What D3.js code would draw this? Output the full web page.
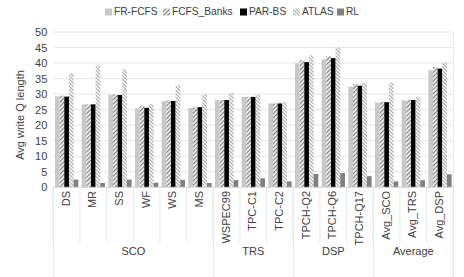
<!DOCTYPE html>
<html><head><meta charset="utf-8">
<script src="https://cdn.jsdelivr.net/npm/d3@7/dist/d3.min.js"></script>
<style>body{margin:0;background:#fff}svg{display:block;font-family:"Liberation Sans",Arial,sans-serif}</style>
</head><body><svg id="c" width="464" height="277"></svg>
<script>
const categories = ["DS","MR","SS","WF","WS","MS","WSPEC99","TPC-C1","TPC-C2","TPCH-Q2","TPCH-Q6","TPCH-Q17","Avg_SCO","Avg_TRS","Avg_DSP"];
const groups = [{name:"SCO",n:6},{name:"TRS",n:3},{name:"DSP",n:3},{name:"Average",n:3}];
const seriesNames = ["FR-FCFS","FCFS_Banks","PAR-BS","ATLAS","RL"];
const frfcfs    = [29.3,26.7,29.7,25.4,27.7,25.5,28.1,29.1,27.0,39.9,41.2,32.4,27.3,28.0,37.7];
const fcfsBanks = [29.5,26.7,29.9,26.3,27.9,25.7,28.1,29.1,27.0,40.9,42.2,33.2,27.5,28.1,38.7];
const parbs     = [29.2,26.7,29.7,25.6,27.8,25.8,28.1,29.1,27.0,40.3,41.6,32.7,27.4,28.1,38.2];
const atlas     = [36.7,39.3,38.0,26.8,32.9,30.0,30.4,29.7,27.4,42.5,45.1,33.6,33.7,29.1,40.3];
const rl        = [2.5,1.4,2.5,1.5,2.4,1.4,2.3,2.9,1.9,4.3,4.6,3.6,1.9,2.3,4.2];
const yTicks = [0,5,10,15,20,25,30,35,40,45,50];
const seriesValues = [frfcfs,fcfsBanks,parbs,atlas,rl];

const svg = d3.select("#c");
const defs = svg.append("defs");
const p1 = defs.append("pattern").attr("id","pBanks").attr("patternUnits","userSpaceOnUse").attr("width",3).attr("height",3).attr("patternTransform","rotate(45)");
p1.append("rect").attr("width",3).attr("height",3).attr("fill","#f2f2f2");
p1.append("rect").attr("width",1.2).attr("height",3).attr("fill","#7f7f7f");
const p2 = defs.append("pattern").attr("id","pAtlas").attr("patternUnits","userSpaceOnUse").attr("width",2.5).attr("height",2.5).attr("patternTransform","rotate(-45)");
p2.append("rect").attr("width",2.5).attr("height",2.5).attr("fill","#ffffff");
p2.append("rect").attr("width",1.1).attr("height",2.5).attr("fill","#a6a6a6");
const fills = ["#c8c8c8","url(#pBanks)","#000000","url(#pAtlas)","#808080"];

const L=53.3, R=453.3, T=32, B=187.3;
const x = d3.scaleBand().domain(categories).range([L,R]).paddingInner(0).paddingOuter(0);
const y = d3.scaleLinear().domain([0,50]).range([B,T]);
const xs = d3.scaleBand().domain(seriesNames).range([0,x.bandwidth()]).paddingInner(0).paddingOuter(0.36);

svg.append("g").selectAll("line").data(yTicks).join("line")
  .attr("x1",L).attr("x2",R).attr("y1",d=>y(d)).attr("y2",d=>y(d))
  .attr("stroke","#e6e6e6").attr("stroke-width",1);
svg.append("line").attr("x1",R).attr("x2",R).attr("y1",T).attr("y2",277).attr("stroke","#e6e6e6");

const yAxis = d3.axisLeft(y).tickValues(yTicks).tickSize(0).tickPadding(6);
const ya = svg.append("g").attr("transform",`translate(${L},0)`).call(yAxis);
ya.select(".domain").remove();
ya.selectAll("text").attr("font-size",11).attr("fill","#404040").attr("font-family","Liberation Sans, Arial, sans-serif");

svg.append("text").attr("transform","translate(21,115) rotate(-90)").attr("text-anchor","middle")
  .attr("dominant-baseline","middle").attr("font-size",11).attr("fill","#404040").text("Avg write Q length");

seriesNames.forEach((s,si)=>{
  svg.append("g").selectAll("rect").data(seriesValues[si]).join("rect")
    .attr("x",(d,i)=>x(categories[i])+xs(s))
    .attr("width",xs.bandwidth())
    .attr("y",d=>y(d)).attr("height",d=>B-y(d))
    .attr("fill",fills[si]);
});

svg.append("line").attr("x1",L).attr("x2",R).attr("y1",B).attr("y2",B).attr("stroke","#d9d9d9");
svg.append("g").selectAll("line").data(categories).join("line")
  .attr("x1",d=>x(d)).attr("x2",d=>x(d)).attr("y1",B).attr("y2",242)
  .attr("stroke","#e6e6e6");
svg.append("g").selectAll("text").data(categories).join("text")
  .attr("transform",d=>`translate(${x(d)+x.bandwidth()/2},191) rotate(-90)`)
  .attr("text-anchor","end").attr("dominant-baseline","middle")
  .attr("font-size",11).attr("fill","#404040").text(d=>d);
let acc=0;
const gb=[0];
groups.forEach(g=>{acc+=g.n;gb.push(acc);});
svg.append("g").selectAll("line").data(gb).join("line")
  .attr("x1",d=>d<categories.length?x(categories[d]):R).attr("x2",d=>d<categories.length?x(categories[d]):R)
  .attr("y1",B).attr("y2",277).attr("stroke","#e6e6e6");
svg.append("g").selectAll("text").data(groups).join("text")
  .attr("x",(g,i)=>{const a=x(categories[gb[i]]);const b=gb[i+1]<categories.length?x(categories[gb[i+1]]):R;return (a+b)/2;})
  .attr("y",252).attr("text-anchor","middle").attr("dominant-baseline","middle")
  .attr("font-size",11).attr("fill","#404040").text(g=>g.name);

const legX=[105,163,240,293,337];
const leg = svg.append("g");
seriesNames.forEach((s,i)=>{
  leg.append("rect").attr("x",legX[i]).attr("y",8.5).attr("width",7).attr("height",7).attr("fill",fills[i]);
  leg.append("text").attr("x",legX[i]+9).attr("y",12).attr("dominant-baseline","middle")
    .attr("font-size",10.2).attr("fill","#404040").text(s);
});
</script></body></html>
